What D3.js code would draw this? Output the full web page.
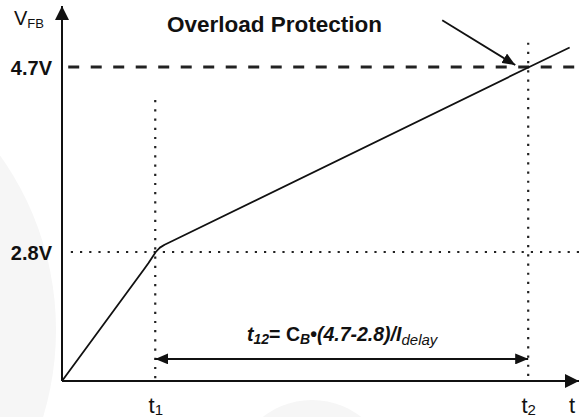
<!DOCTYPE html>
<html>
<head>
<meta charset="utf-8">
<script src="https://cdn.jsdelivr.net/npm/d3@7"></script>
<style>
  body { margin: 0; background: #fff; }
  svg { display: block; font-family: Arial, "Liberation Sans", sans-serif; }
</style>
</head>
<body>
<svg class="container"></svg>
<script>
// reference levels on the VFB axis
const levelValues = [2.8, 4.7];
const levelLabels = ["2.8V", "4.7V"];

// time marks on the t axis
const timeValues = [1.8, 9.0];
const timeLabels = ["t", "t"];
const timeSubs = ["1", "2"];

// VFB curve (time, volts)
const vfbTime = [0, 1.58, 1.67, 1.74, 1.81, 1.89, 1.98, 2.08, 9.02, 9.8];
const vfbVolt = [0, 2.42, 2.56, 2.68, 2.8, 2.845, 2.875, 2.9, 4.7, 4.9];

// callout arrow and delay arrow (time, volts)
const calloutFrom = [7.34, 5.18];
const calloutTo = [8.75, 4.72];
const delayVolt = 0.48;

const width = 586, height = 417;
const svg = d3.select(".container").attr("width", width).attr("height", height);

// faint background shapes
svg.append("circle").attr("cx", -244).attr("cy", 330).attr("r", 300).attr("fill", "#f6f6f6");
svg.append("circle").attr("cx", 312).attr("cy", 480).attr("r", 80).attr("fill", "#f6f6f6");

// Scales (schematic, piecewise on y)
const xScale = d3.scaleLinear().domain([0, 10]).range([62, 580]);
const yScale = d3.scaleLinear().domain([0, 2.8, 4.7]).range([381, 252, 67]);

// Arrow markers
const defs = svg.append("defs");
function marker(id, w, h) {
  defs.append("marker")
    .attr("id", id)
    .attr("viewBox", `0 0 ${w} ${h}`)
    .attr("markerUnits", "userSpaceOnUse")
    .attr("markerWidth", w).attr("markerHeight", h)
    .attr("refX", w).attr("refY", h / 2)
    .attr("orient", "auto-start-reverse")
    .append("path")
    .attr("d", `M0,0 L${w},${h / 2} L0,${h} Z`)
    .attr("fill", "#111");
}
marker("axisHead", 14, 14);
marker("smallHead", 13, 11);

// Dashed 4.7V level
svg.append("line")
  .attr("x1", xScale(0.12)).attr("x2", xScale(10.05))
  .attr("y1", yScale(4.7)).attr("y2", yScale(4.7))
  .attr("stroke", "#222").attr("stroke-width", 3)
  .attr("stroke-dasharray", "11,11.5");

// Dotted 2.8V level
svg.append("line")
  .attr("x1", xScale(0.17)).attr("x2", xScale(10))
  .attr("y1", yScale(2.8)).attr("y2", yScale(2.8))
  .attr("stroke", "#222").attr("stroke-width", 2.2)
  .attr("stroke-dasharray", "2.2,7");

// Dotted t1 / t2 verticals
const vTops = [4.36, 4.95];
svg.selectAll(".tline")
  .data(timeValues)
  .join("line")
  .attr("class", "tline")
  .attr("x1", d => xScale(d)).attr("x2", d => xScale(d))
  .attr("y1", (d, i) => yScale(vTops[i])).attr("y2", yScale(0))
  .attr("stroke", "#222").attr("stroke-width", 2.2)
  .attr("stroke-dasharray", "2.2,7");

// Axes with arrows
svg.append("line")
  .attr("x1", xScale(0)).attr("y1", yScale(0))
  .attr("x2", xScale(0)).attr("y2", 6)
  .attr("stroke", "#111").attr("stroke-width", 2)
  .attr("marker-end", "url(#axisHead)");
svg.append("line")
  .attr("x1", xScale(0)).attr("y1", yScale(0))
  .attr("x2", 579).attr("y2", yScale(0))
  .attr("stroke", "#111").attr("stroke-width", 2)
  .attr("marker-end", "url(#axisHead)");

// VFB curve
const lineGen = d3.line()
  .x(d => xScale(d[0]))
  .y(d => yScale(d[1]));
svg.append("path")
  .datum(vfbTime.map((t, i) => [t, vfbVolt[i]]))
  .attr("d", lineGen)
  .attr("fill", "none")
  .attr("stroke", "#111")
  .attr("stroke-width", 1.8)
  .attr("stroke-linejoin", "round");

// Delay arrow between t1 and t2
svg.append("line")
  .attr("x1", xScale(timeValues[0])).attr("x2", xScale(timeValues[1]))
  .attr("y1", yScale(delayVolt)).attr("y2", yScale(delayVolt))
  .attr("stroke", "#111").attr("stroke-width", 2)
  .attr("marker-start", "url(#smallHead)")
  .attr("marker-end", "url(#smallHead)");

// Callout arrow
svg.append("line")
  .attr("x1", xScale(calloutFrom[0])).attr("y1", yScale(calloutFrom[1]))
  .attr("x2", xScale(calloutTo[0])).attr("y2", yScale(calloutTo[1]))
  .attr("stroke", "#111").attr("stroke-width", 1.8)
  .attr("marker-end", "url(#smallHead)");

// Y labels
const yAxis = svg.append("g")
  .attr("transform", `translate(${xScale(0)},0)`)
  .call(d3.axisLeft(yScale).tickValues(levelValues)
    .tickFormat((d, i) => levelLabels[i]).tickSize(0).tickPadding(10));
yAxis.select(".domain").remove();
yAxis.selectAll("text")
  .attr("font-family", "Arial, 'Liberation Sans', sans-serif")
  .attr("font-size", 20).attr("font-weight", "bold").attr("fill", "#111")
  .attr("dy", "0.35em");

// X labels with subscripts
const xAxis = svg.append("g")
  .attr("transform", `translate(0,${yScale(0)})`)
  .call(d3.axisBottom(xScale).tickValues(timeValues).tickSize(0).tickPadding(0));
xAxis.select(".domain").remove();
xAxis.selectAll("text")
  .text(null)
  .attr("y", 32).attr("dy", 0)
  .attr("font-family", "Arial, 'Liberation Sans', sans-serif")
  .attr("font-size", 22).attr("fill", "#111")
  .each(function (d, i) {
    const t = d3.select(this);
    t.append("tspan").text(timeLabels[i]);
    t.append("tspan").attr("font-size", 15).attr("dy", 2).text(timeSubs[i]);
  });

// axis names
svg.append("text").attr("x", 569).attr("y", 413)
  .attr("font-size", 22).attr("fill", "#111").text("t");
const vfb = svg.append("text").attr("x", 14).attr("y", 25).attr("fill", "#111");
vfb.append("tspan").attr("font-size", 20).text("V");
vfb.append("tspan").attr("font-size", 13).attr("dy", 3).text("FB");

// Title
svg.append("text").attr("x", 167).attr("y", 32)
  .attr("font-size", 22.5).attr("font-weight", "bold").attr("fill", "#111")
  .text("Overload Protection");

// Formula
const f = svg.append("text").attr("x", 247).attr("y", 341)
  .attr("font-weight", "bold").attr("font-style", "italic").attr("fill", "#111");
f.append("tspan").attr("font-size", 19.5).text("t");
f.append("tspan").attr("font-size", 14).attr("dy", 3).text("12");
f.append("tspan").attr("font-size", 19.5).attr("dy", -3).attr("font-style", "normal").text("= C");
f.append("tspan").attr("font-size", 14).attr("dy", 3).text("B");
f.append("tspan").attr("font-size", 19.5).attr("dy", -3).text("•(4.7-2.8)/I");
f.append("tspan").attr("font-size", 15).attr("dy", 4).attr("font-weight", "normal").text("delay");
</script>
</body>
</html>
